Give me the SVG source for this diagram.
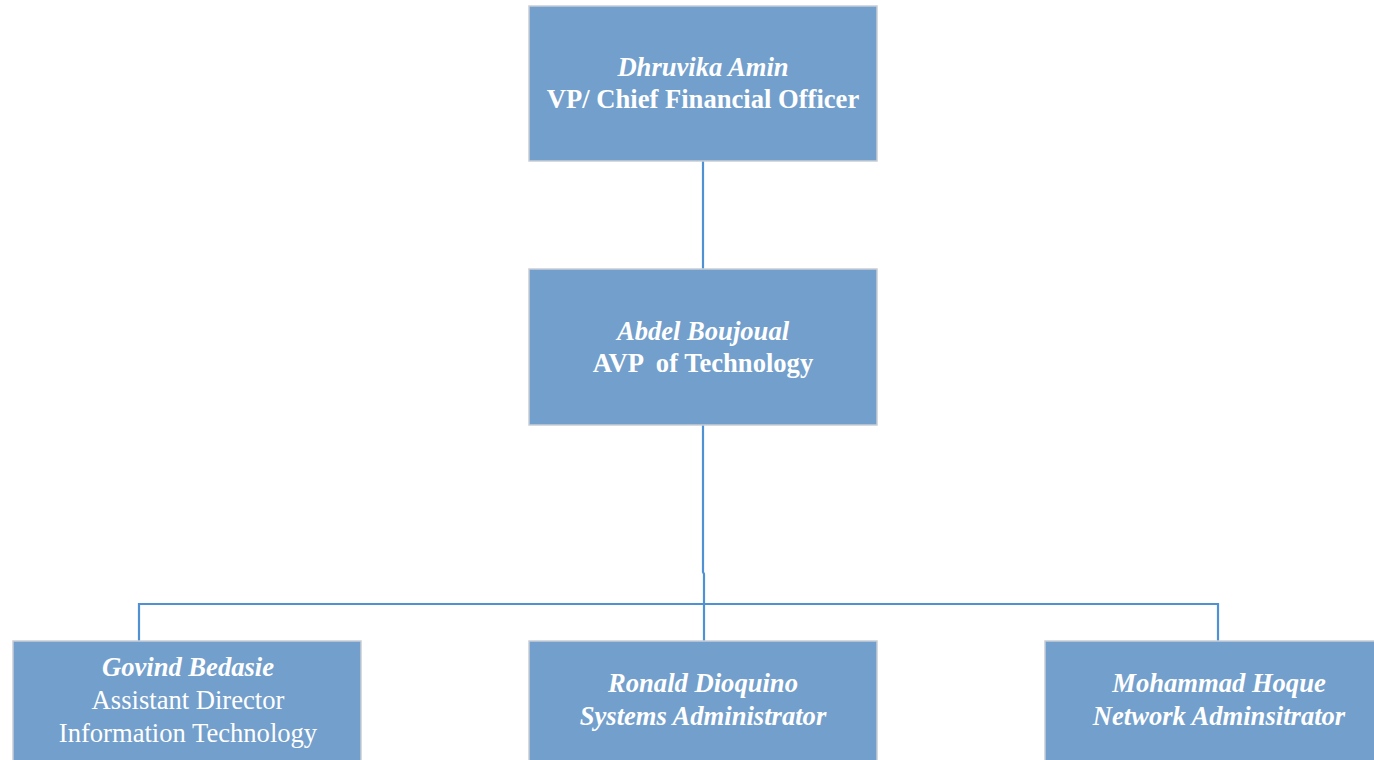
<svg xmlns="http://www.w3.org/2000/svg" width="1374" height="760" viewBox="0 0 1374 760">
<style>
.box{fill:#739fcc;stroke:#c8ced6;stroke-width:1.5}
.t{font-family:"Liberation Serif","Times New Roman",serif;font-size:26.6px;fill:#ffffff;text-anchor:middle}
.bi{font-weight:bold;font-style:italic}
.b{font-weight:bold}
.c{fill:none;stroke:#4f91d3;stroke-width:2.2}
</style>
<rect width="1374" height="760" fill="#ffffff"/>
<g id="connectors">
<path class="c" d="M703 161 V269"/>
<path class="c" d="M703 425 V572 L704 574 V641"/>
<path class="c" d="M139 654 V604 H1218 V641"/>
</g>
<g id="n1">
<rect class="box" x="529" y="6" width="348" height="155"/>
<text class="t bi" x="703" y="76">Dhruvika Amin</text>
<text class="t b" x="703" y="108">VP/ Chief Financial Officer</text>
</g>
<g id="n2">
<rect class="box" x="529" y="269" width="348" height="156"/>
<text class="t bi" x="703" y="340">Abdel Boujoual</text>
<text class="t b" x="703" y="372" xml:space="preserve">AVP  of Technology</text>
</g>
<g id="n3">
<rect class="box" x="13" y="641" width="348" height="130"/>
<text class="t bi" x="188" y="676">Govind Bedasie</text>
<text class="t" x="188" y="709">Assistant Director</text>
<text class="t" x="188" y="742">Information Technology</text>
</g>
<g id="n4">
<rect class="box" x="529" y="641" width="348" height="130"/>
<text class="t bi" x="703" y="692">Ronald Dioquino</text>
<text class="t bi" x="703" y="725">Systems Administrator</text>
</g>
<g id="n5">
<rect class="box" x="1045" y="641" width="348" height="130"/>
<text class="t bi" x="1219" y="692">Mohammad Hoque</text>
<text class="t bi" x="1219" y="725">Network Adminsitrator</text>
</g>
</svg>
